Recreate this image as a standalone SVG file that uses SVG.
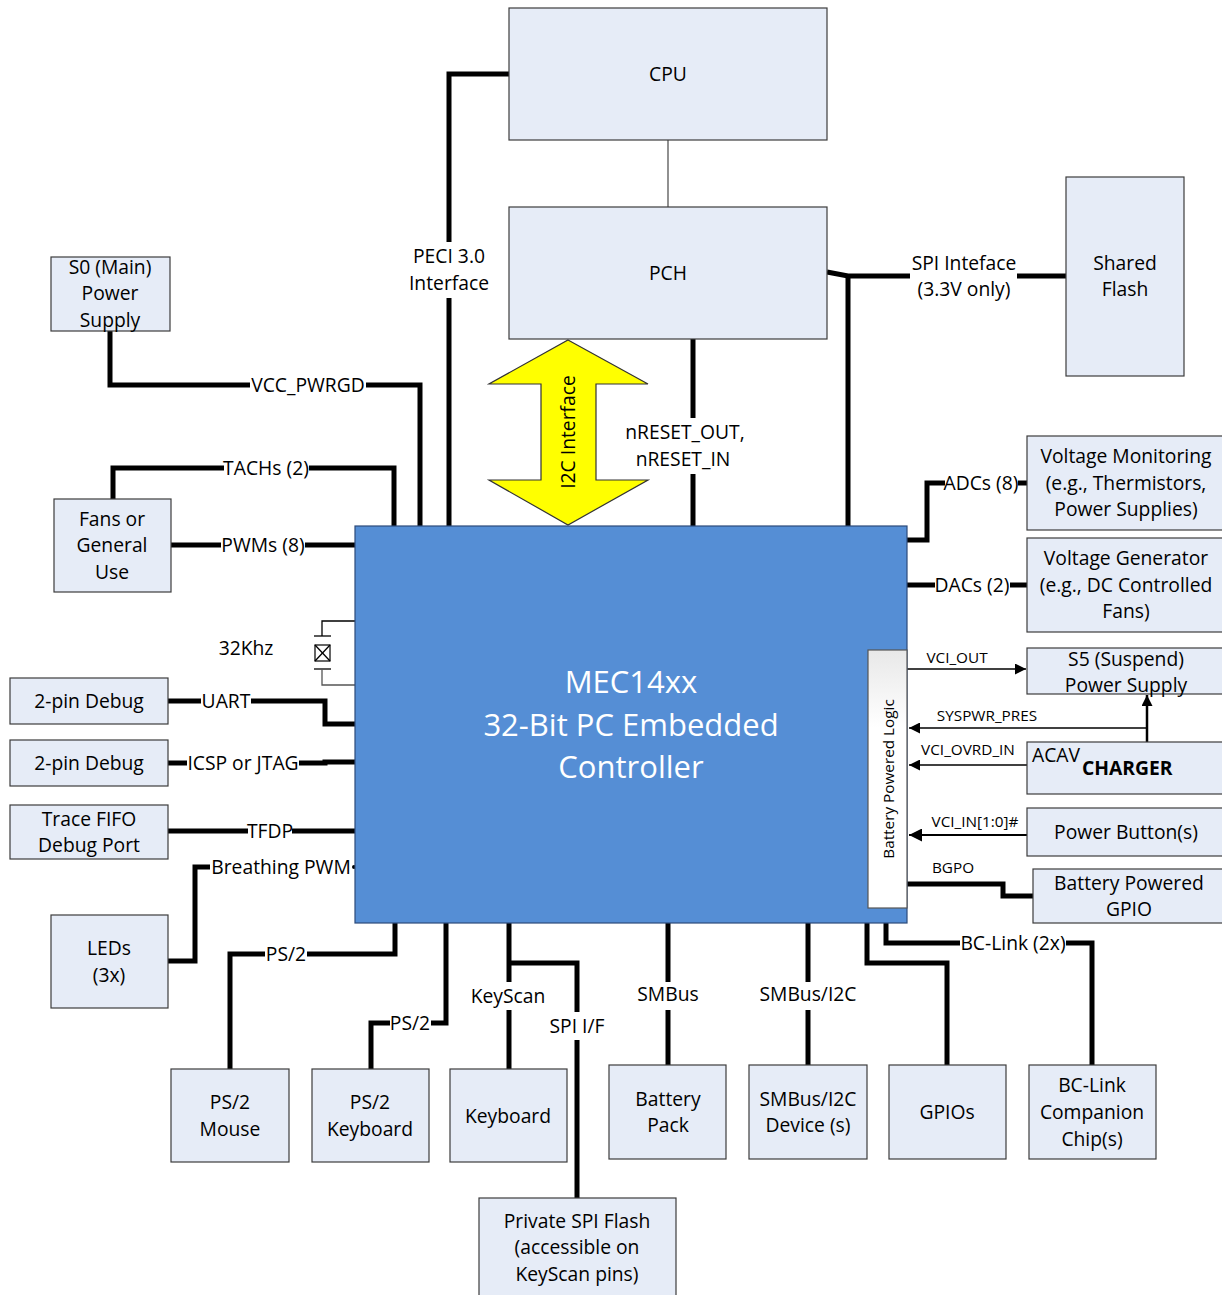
<svg xmlns="http://www.w3.org/2000/svg" width="1222" height="1295" viewBox="0 0 1222 1295">
<defs>
<style>
.box{fill:#e6ecf7;stroke:#3c3c3c;stroke-width:1.2}
.t{font-family:"Open Sans","Liberation Sans",sans-serif;font-size:19.3px;fill:#000;text-anchor:middle}
.s{font-family:"Open Sans","Liberation Sans",sans-serif;font-size:15.3px;fill:#000;text-anchor:middle}
.w{font-family:"Open Sans","Liberation Sans",sans-serif;font-size:31px;fill:#fff;text-anchor:middle}
.k{fill:none;stroke:#000;stroke-width:5;stroke-linejoin:miter}
.n{fill:none;stroke:#000;stroke-width:1.3}
.g{fill:none;stroke:#555;stroke-width:1.3}
</style>
<marker id="ar" viewBox="0 0 10 10" refX="10" refY="5" markerWidth="18" markerHeight="11" markerUnits="userSpaceOnUse" orient="auto"><path d="M0,0 L10,5 L0,10 z" fill="#000"/></marker>
<marker id="ar2" viewBox="0 0 10 10" refX="10" refY="5" markerWidth="20" markerHeight="13" markerUnits="userSpaceOnUse" orient="auto"><path d="M0,0 L10,5 L0,10 z" fill="#000"/></marker>
<linearGradient id="bpl" x1="0" y1="0" x2="0" y2="1"><stop offset="0" stop-color="#e8e8e8"/><stop offset="0.3" stop-color="#ffffff"/><stop offset="1" stop-color="#ffffff"/></linearGradient>
</defs>
<rect width="1222" height="1295" fill="#fff"/>

<g id="connectors">
<line x1="668" y1="140" x2="668" y2="207" class="g"/>
<polyline points="509,74 449,74 449,242" class="k"/>
<line x1="449" y1="298" x2="449" y2="526" class="k"/>
<polyline points="110,331 110,385 250,385" class="k"/>
<polyline points="366,385 420,385 420,526" class="k"/>
<polyline points="113,499 113,468 224,468" class="k"/>
<polyline points="309,468 394,468 394,526" class="k"/>
<line x1="171" y1="545" x2="221" y2="545" class="k"/>
<line x1="305" y1="545" x2="355" y2="545" class="k"/>
<line x1="693" y1="339" x2="693" y2="418" class="k"/>
<line x1="693" y1="474" x2="693" y2="526" class="k"/>
<polyline points="827,272 848,276 910,276" class="k"/>
<line x1="1017" y1="276" x2="1066" y2="276" class="k"/>
<line x1="848" y1="276" x2="848" y2="526" class="k"/>
<polyline points="907,540 927,540 927,483 945,483" class="k"/>
<line x1="1018" y1="483" x2="1027" y2="483" class="k"/>
<line x1="907" y1="585" x2="935" y2="585" class="k"/>
<line x1="1010" y1="585" x2="1027" y2="585" class="k"/>
<line x1="907" y1="669" x2="1026" y2="669" class="n" marker-end="url(#ar)"/>
<line x1="1147" y1="728" x2="909" y2="728" class="n" marker-end="url(#ar)"/>
<line x1="1147" y1="742" x2="1147" y2="695" stroke="#000" stroke-width="2.5" marker-end="url(#ar)"/>
<line x1="1027" y1="765" x2="909" y2="765" class="n" marker-end="url(#ar)"/>
<line x1="1027" y1="835" x2="909" y2="835" stroke="#000" stroke-width="2" marker-end="url(#ar2)"/>
<polyline points="907,884 1003,884 1003,896 1033,896" class="k"/>
<line x1="168" y1="701" x2="201" y2="701" class="k"/>
<polyline points="251,701 325,701 325,724 355,724" class="k"/>
<line x1="168" y1="763" x2="187" y2="763" class="k"/>
<polyline points="299,763 325,763 325,762 355,762" class="k"/>
<line x1="168" y1="831" x2="248" y2="831" class="k"/>
<line x1="292" y1="831" x2="355" y2="831" class="k"/>
<polyline points="168,961 195,961 195,867 210,867" class="k"/>
<circle cx="354" cy="867" r="2" fill="#000"/>
<polyline points="355,621 322,621 322,636" class="n"/>
<line x1="314" y1="636" x2="331" y2="636" class="n"/>
<rect x="315" y="645" width="15" height="16" fill="#fff" stroke="#000" stroke-width="1.2"/>
<line x1="315" y1="645" x2="330" y2="661" class="n"/>
<line x1="330" y1="645" x2="315" y2="661" class="n"/>
<line x1="314" y1="669" x2="331" y2="669" class="n"/>
<polyline points="322,669 322,685 355,685" class="g"/>
<polyline points="395,923 395,954 307,954" class="k"/>
<polyline points="265,954 230,954 230,1069" class="k"/>
<polyline points="446,923 446,1023 431,1023" class="k"/>
<polyline points="390,1023 371,1023 371,1069" class="k"/>
<line x1="509" y1="923" x2="509" y2="982" class="k"/>
<line x1="509" y1="1010" x2="509" y2="1069" class="k"/>
<polyline points="509,963 577,963 577,1012" class="k"/>
<line x1="577" y1="1040" x2="577" y2="1198" class="k"/>
<line x1="668" y1="923" x2="668" y2="982" class="k"/>
<line x1="668" y1="1010" x2="668" y2="1065" class="k"/>
<line x1="808" y1="923" x2="808" y2="982" class="k"/>
<line x1="808" y1="1010" x2="808" y2="1065" class="k"/>
<polyline points="867,923 867,963 947,963 947,1065" class="k"/>
<polyline points="886,923 886,943 960,943" class="k"/>
<polyline points="1066,943 1092,943 1092,1065" class="k"/>
</g>

<g id="cpu"><rect x="509" y="8" width="318" height="132" class="box"/><text x="668" y="81" class="t">CPU</text></g>
<g id="pch"><rect x="509" y="207" width="318" height="132" class="box"/><text x="668" y="280" class="t">PCH</text></g>
<g id="shared-flash"><rect x="1066" y="177" width="118" height="199" class="box"/><text x="1125" y="270" class="t">Shared</text><text x="1125" y="296" class="t">Flash</text></g>
<g id="s0"><rect x="51" y="257" width="119" height="74" class="box"/><text x="110" y="274" class="t">S0 (Main)</text><text x="110" y="300" class="t">Power</text><text x="110" y="327" class="t">Supply</text></g>
<g id="fans"><rect x="54" y="499" width="117" height="93" class="box"/><text x="112" y="526" class="t">Fans or</text><text x="112" y="552" class="t">General</text><text x="112" y="579" class="t">Use</text></g>

<g id="i2c"><polygon points="568,340 648,384 596,384 596,480 648,480 568,525 489,480 541,480 541,384 489,384" fill="#ffff00" stroke="#333" stroke-width="1.2"/><text transform="translate(575,432) rotate(-90)" class="t">I2C Interface</text></g>

<g id="mec"><rect x="355" y="526" width="552" height="397" fill="#558ed5" stroke="#2c4a7a" stroke-width="1.2"/><text x="631" y="693" class="w">MEC14xx</text><text x="631" y="736" class="w">32-Bit PC Embedded</text><text x="631" y="778" class="w">Controller</text></g>
<g id="bpl"><rect x="868" y="650" width="39" height="258" fill="url(#bpl)" stroke="#555" stroke-width="1.2"/><text transform="translate(894,779) rotate(-90)" class="s">Battery Powered Logic</text></g>

<g id="vmon"><rect x="1027" y="436" width="200" height="94" class="box"/><text x="1126" y="463" class="t">Voltage Monitoring</text><text x="1126" y="490" class="t">(e.g., Thermistors,</text><text x="1126" y="516" class="t">Power Supplies)</text></g>
<g id="vgen"><rect x="1027" y="538" width="200" height="94" class="box"/><text x="1126" y="565" class="t">Voltage Generator</text><text x="1126" y="592" class="t">(e.g., DC Controlled</text><text x="1126" y="618" class="t">Fans)</text></g>
<g id="s5"><rect x="1027" y="648" width="200" height="46" class="box"/><text x="1126" y="666" class="t">S5 (Suspend)</text><text x="1126" y="692" class="t">Power Supply</text></g>
<g id="charger"><rect x="1027" y="742" width="200" height="52" class="box"/><text x="1032" y="762" class="t" style="text-anchor:start">ACAV</text><text x="1082" y="775" class="t" style="text-anchor:start;font-weight:bold">CHARGER</text></g>
<g id="pwrbtn"><rect x="1027" y="808" width="200" height="48" class="box"/><text x="1126" y="839" class="t">Power Button(s)</text></g>
<g id="bgpio"><rect x="1033" y="869" width="194" height="54" class="box"/><text x="1129" y="890" class="t">Battery Powered</text><text x="1129" y="916" class="t">GPIO</text></g>

<g id="dbg1"><rect x="10" y="678" width="158" height="46" class="box"/><text x="89" y="708" class="t">2-pin Debug</text></g>
<g id="dbg2"><rect x="10" y="740" width="158" height="46" class="box"/><text x="89" y="770" class="t">2-pin Debug</text></g>
<g id="trace"><rect x="10" y="805" width="158" height="54" class="box"/><text x="89" y="826" class="t">Trace FIFO</text><text x="89" y="852" class="t">Debug Port</text></g>
<g id="leds"><rect x="51" y="915" width="117" height="93" class="box"/><text x="109" y="955" class="t">LEDs</text><text x="109" y="982" class="t">(3x)</text></g>

<g id="mouse"><rect x="171" y="1069" width="118" height="93" class="box"/><text x="230" y="1109" class="t">PS/2</text><text x="230" y="1136" class="t">Mouse</text></g>
<g id="kbd2"><rect x="312" y="1069" width="117" height="93" class="box"/><text x="370" y="1109" class="t">PS/2</text><text x="370" y="1136" class="t">Keyboard</text></g>
<g id="keyboard"><rect x="450" y="1069" width="117" height="93" class="box"/><text x="508" y="1123" class="t">Keyboard</text></g>
<g id="spiflash"><rect x="479" y="1198" width="197" height="100" class="box"/><text x="577" y="1228" class="t">Private SPI Flash</text><text x="577" y="1254" class="t">(accessible on</text><text x="577" y="1281" class="t">KeyScan pins)</text></g>
<g id="battery"><rect x="609" y="1065" width="117" height="94" class="box"/><text x="668" y="1106" class="t">Battery</text><text x="668" y="1132" class="t">Pack</text></g>
<g id="smbdev"><rect x="749" y="1065" width="118" height="94" class="box"/><text x="808" y="1106" class="t">SMBus/I2C</text><text x="808" y="1132" class="t">Device (s)</text></g>
<g id="gpios"><rect x="889" y="1065" width="117" height="94" class="box"/><text x="947" y="1119" class="t">GPIOs</text></g>
<g id="bclink"><rect x="1029" y="1065" width="127" height="94" class="box"/><text x="1092" y="1092" class="t">BC-Link</text><text x="1092" y="1119" class="t">Companion</text><text x="1092" y="1146" class="t">Chip(s)</text></g>

<g id="labels">
<text x="449" y="263" class="t">PECI 3.0</text><text x="449" y="290" class="t">Interface</text>
<text x="308" y="392" class="t">VCC_PWRGD</text>
<text x="266" y="475" class="t">TACHs (2)</text>
<text x="263" y="552" class="t">PWMs (8)</text>
<text x="685" y="439" class="t">nRESET_OUT,</text><text x="683" y="466" class="t">nRESET_IN</text>
<text x="964" y="270" class="t">SPI Inteface</text><text x="964" y="296" class="t">(3.3V only)</text>
<text x="981" y="490" class="t">ADCs (8)</text>
<text x="972" y="592" class="t">DACs (2)</text>
<text x="957" y="663" class="s">VCI_OUT</text>
<text x="987" y="721" class="s">SYSPWR_PRES</text>
<text x="968" y="755" class="s">VCI_OVRD_IN</text>
<text x="975" y="827" class="s">VCI_IN[1:0]#</text>
<text x="953" y="873" class="s">BGPO</text>
<text x="246" y="655" class="t">32Khz</text>
<text x="226" y="708" class="t">UART</text>
<text x="243" y="770" class="t">ICSP or JTAG</text>
<text x="270" y="838" class="t">TFDP</text>
<text x="281" y="874" class="t">Breathing PWM</text>
<text x="286" y="961" class="t">PS/2</text>
<text x="410" y="1030" class="t">PS/2</text>
<text x="508" y="1003" class="t">KeyScan</text>
<text x="577" y="1033" class="t">SPI I/F</text>
<text x="668" y="1001" class="t">SMBus</text>
<text x="808" y="1001" class="t">SMBus/I2C</text>
<text x="1013" y="950" class="t">BC-Link (2x)</text>
</g>
</svg>
